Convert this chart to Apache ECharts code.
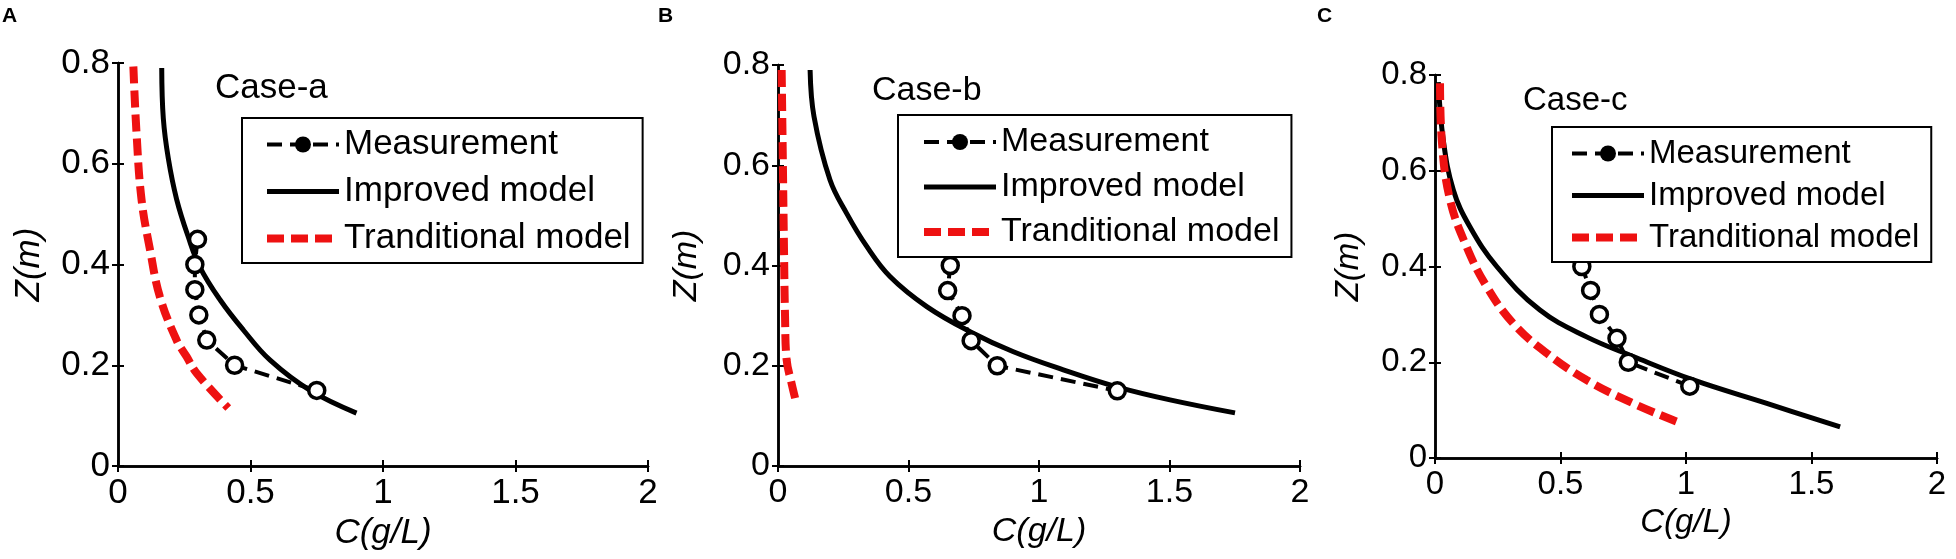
<!DOCTYPE html>
<html>
<head>
<meta charset="utf-8">
<script src="https://cdn.jsdelivr.net/npm/echarts@6/dist/echarts.min.js"></script>
<style>
html, body { margin: 0; padding: 0; background: #fff; }
#chart { width: 1956px; height: 559px; }
</style>
</head>
<body>
<div id="chart"></div>
<script>
// measurement depths (m), same for every case
var measZ = [0.45, 0.40, 0.35, 0.30, 0.25, 0.20, 0.15];
var measA = [0.30, 0.29, 0.29, 0.305, 0.335, 0.44, 0.75];
var measB = [0.665, 0.66, 0.65, 0.705, 0.74, 0.84, 1.30];
var measC = [0.55, 0.585, 0.62, 0.655, 0.725, 0.77, 1.015];

// improved model curves
var impAZ = [0.79, 0.69, 0.61, 0.53, 0.455, 0.395, 0.33, 0.27, 0.21, 0.15, 0.105];
var impAC = [0.165, 0.171, 0.19, 0.221, 0.265, 0.309, 0.385, 0.473, 0.574, 0.725, 0.90];
var impBZ = [0.79, 0.697, 0.571, 0.504, 0.438, 0.378, 0.318, 0.268, 0.228, 0.192, 0.158, 0.132, 0.106];
var impBC = [0.123, 0.138, 0.199, 0.263, 0.34, 0.429, 0.57, 0.736, 0.902, 1.093, 1.298, 1.502, 1.751];
var impCZ = [0.785, 0.664, 0.56, 0.483, 0.40, 0.309, 0.253, 0.212, 0.163, 0.114, 0.065];
var impCC = [0.013, 0.033, 0.073, 0.139, 0.246, 0.418, 0.604, 0.79, 1.029, 1.322, 1.614];

// traditional model curves
var traAZ = [0.793, 0.66, 0.528, 0.429, 0.336, 0.25, 0.217, 0.184, 0.115];
var traAC = [0.058, 0.07, 0.089, 0.121, 0.158, 0.221, 0.259, 0.297, 0.416];
var traBZ = [0.79, 0.631, 0.431, 0.298, 0.212, 0.165, 0.122];
var traBC = [0.014, 0.018, 0.023, 0.027, 0.033, 0.052, 0.072];
var traCZ = [0.783, 0.664, 0.539, 0.441, 0.358, 0.281, 0.219, 0.163, 0.114, 0.076];
var traCC = [0.02, 0.027, 0.06, 0.126, 0.206, 0.312, 0.445, 0.604, 0.79, 0.963];

var panelLetters = ['A', 'B', 'C'];
var caseNames = ['Case-a', 'Case-b', 'Case-c'];
var seriesNames = ['Measurement', 'Improved model', 'Tranditional model'];

var FONT = '"Liberation Sans", Arial, Helvetica, sans-serif';

function pairs(cs, zs) {
	var out = [];
	for (var i = 0; i < zs.length; i++) out.push([cs[i], zs[i]]);
	return out;
}

var panels = [
	{ grid: { left: 118, top: 63, width: 530, height: 403 }, fs: 35, xGap: 48, yGap: 71,
	  legend: { left: 242, top: 118, padding: [9, 12, 7, 21], itemGap: 12 },
	  meas: measA, imp: pairs(impAC, impAZ), tra: pairs(traAC, traAZ),
	  caseText: { x: 215, y: 88 }, letter: { x: 2, y: 16 } },
	{ grid: { left: 778, top: 65, width: 522, height: 401 }, fs: 34, xGap: 48, yGap: 74,
	  legend: { left: 898, top: 115, padding: [10, 12, 8, 22], itemGap: 11 },
	  meas: measB, imp: pairs(impBC, impBZ), tra: pairs(traBC, traBZ),
	  caseText: { x: 872, y: 91 }, letter: { x: 658, y: 16 } },
	{ grid: { left: 1435, top: 75, width: 502, height: 383 }, fs: 33, xGap: 47, yGap: 70,
	  legend: { left: 1552, top: 127, padding: [10, 12, 8, 16], itemGap: 9 },
	  meas: measC, imp: pairs(impCC, impCZ), tra: pairs(traCC, traCZ),
	  caseText: { x: 1523, y: 101 }, letter: { x: 1317, y: 16 } }
];

var option = {
	animation: false,
	backgroundColor: '#fff',
	grid: [], xAxis: [], yAxis: [], legend: [], series: [], graphic: []
};

panels.forEach(function (p, i) {
	option.grid.push(p.grid);
	var axLine = { show: true, lineStyle: { color: '#000', width: 2.5 } };
	var tick = { show: true, inside: true, length: 6, lineStyle: { color: '#000', width: 2 } };
	var lbl = { color: '#000', fontSize: p.fs, fontFamily: FONT };
	// bottom + top x axes
	option.xAxis.push({
		type: 'value', gridIndex: i, min: 0, max: 2, interval: 0.5, position: 'bottom',
		name: 'C(g/L)', nameLocation: 'middle', nameGap: p.xGap,
		nameTextStyle: { color: '#000', fontSize: p.fs, fontStyle: 'italic', fontFamily: FONT },
		axisLine: axLine, axisTick: tick, splitLine: { show: false },
		axisLabel: Object.assign({ margin: 10 }, lbl)
	});
	option.xAxis.push({
		type: 'value', gridIndex: i, min: 0, max: 2, interval: 0.5, position: 'top',
		axisLine: axLine, axisTick: tick, splitLine: { show: false }, axisLabel: { show: false }
	});
	// left + right y axes
	option.yAxis.push({
		type: 'value', gridIndex: i, min: 0, max: 0.8, interval: 0.2, position: 'left',
		name: 'Z(m)', nameLocation: 'middle', nameGap: p.yGap,
		nameTextStyle: { color: '#000', fontSize: p.fs, fontStyle: 'italic', fontFamily: FONT },
		axisLine: axLine, axisTick: tick, splitLine: { show: false },
		axisLabel: Object.assign({ margin: 8 }, lbl)
	});
	option.yAxis.push({
		type: 'value', gridIndex: i, min: 0, max: 0.8, interval: 0.2, position: 'right',
		axisLine: axLine, axisTick: tick, splitLine: { show: false }, axisLabel: { show: false }
	});

	var xi = i * 2, yi = i * 2;
	option.series.push({
		name: seriesNames[0], type: 'line', xAxisIndex: xi, yAxisIndex: yi,
		data: pairs(p.meas, measZ),
		symbol: 'circle', symbolSize: 16,
		itemStyle: { color: '#fff', borderColor: '#000', borderWidth: 3.5 },
		lineStyle: { color: '#000', width: 4, type: [15, 8] }
	});
	option.series.push({
		name: seriesNames[1], type: 'line', xAxisIndex: xi, yAxisIndex: yi,
		data: p.imp, symbol: 'none', smooth: 0.4,
		itemStyle: { color: '#000' },
		lineStyle: { color: '#000', width: 5 }
	});
	option.series.push({
		name: seriesNames[2], type: 'line', xAxisIndex: xi, yAxisIndex: yi,
		data: p.tra, symbol: 'none', smooth: 0.4,
		itemStyle: { color: '#ee1111' },
		lineStyle: { color: '#ee1111', width: 8, type: [17, 7] }
	});

	option.legend.push({
		orient: 'vertical', left: p.legend.left, top: p.legend.top,
		padding: p.legend.padding, itemGap: p.legend.itemGap,
		itemWidth: 72, itemHeight: 20,
		backgroundColor: '#fff', borderColor: '#000', borderWidth: 2, borderRadius: 0,
		textStyle: { color: '#000', fontSize: p.fs, fontFamily: FONT },
		data: [
			{ name: seriesNames[0], itemStyle: { color: '#000', borderWidth: 0 }, lineStyle: { width: 4 } },
			{ name: seriesNames[1], itemStyle: { color: 'rgba(0,0,0,0)', borderWidth: 0 }, lineStyle: { width: 5 } },
			{ name: seriesNames[2], itemStyle: { color: 'rgba(0,0,0,0)', borderWidth: 0 }, lineStyle: { width: 8 } }
		]
	});

	option.graphic.push({
		type: 'text', x: p.caseText.x, y: p.caseText.y, z: 10,
		style: { text: caseNames[i], fill: '#000', font: p.fs + 'px ' + FONT, verticalAlign: 'middle' }
	});
	option.graphic.push({
		type: 'text', x: p.letter.x, y: p.letter.y, z: 10,
		style: { text: panelLetters[i], fill: '#000', font: 'bold 21px ' + FONT, verticalAlign: 'middle' }
	});
});

var myChart = echarts.init(document.getElementById('chart'));
myChart.setOption(option);
window.addEventListener('resize', function () {
	myChart.resize();
});
</script>
</body>
</html>
